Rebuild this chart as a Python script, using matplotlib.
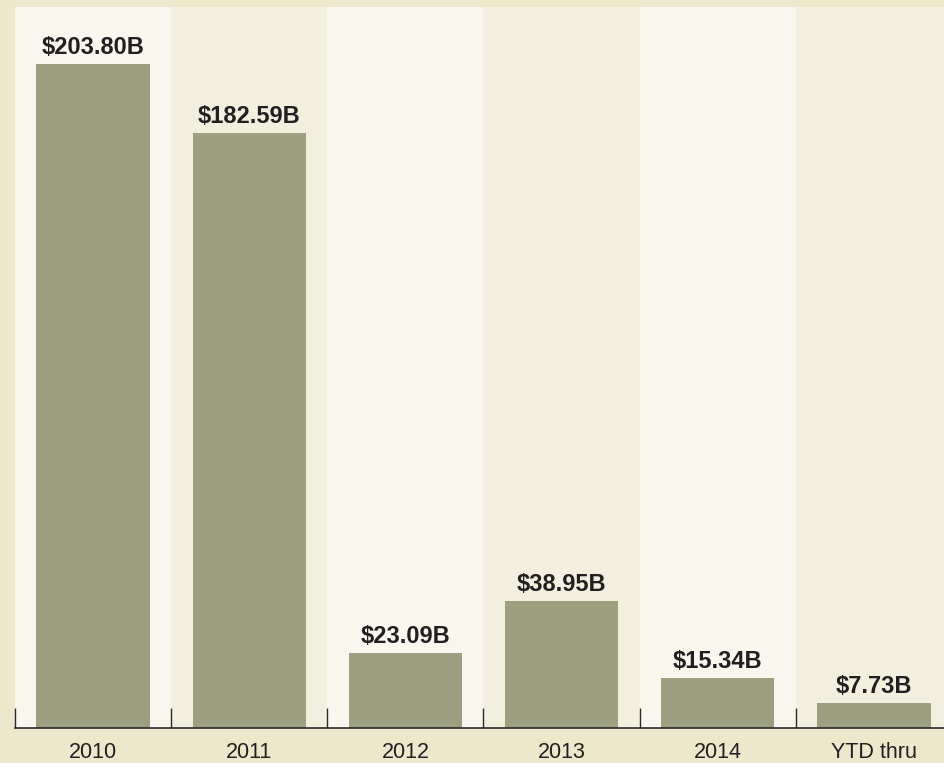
import numpy as np
import matplotlib.pyplot as plt
from matplotlib.transforms import blended_transform_factory

plt.rcParams['font.family'] = ['Liberation Sans', 'DejaVu Sans']

# values in billions of dollars
categories = ['2010', '2011', '2012', '2013', '2014', 'YTD thru']
values = [203.80, 182.59, 23.09, 38.95, 15.34, 7.73]
value_labels = ['$203.80B', '$182.59B', '$23.09B', '$38.95B', '$15.34B', '$7.73B']

outer_bg = '#ede7cb'
col_light = '#f9f6ee'
col_beige = '#f2efdf'
bar_color = '#9ca081'
text_color = '#231f20'

fig = plt.figure(figsize=(9.45, 7.63), dpi=100)
fig.patch.set_facecolor(outer_bg)

# axes run a little past the right edge, like the original crop
ax = fig.add_axes([15 / 945, 35 / 763, 937 / 945, 721 / 763])
ax.set_facecolor(outer_bg)

x = np.arange(len(categories))
for i in x:
    ax.axvspan(i - 0.5, i + 0.5, color=col_light if i % 2 == 0 else col_beige,
               lw=0, zorder=0)

ax.bar(x, values, width=0.725, color=bar_color, lw=0, zorder=2)

for xi, v, lab in zip(x, values, value_labels):
    ax.annotate(lab, (xi, v), xytext=(0, 7.2), textcoords='offset points',
                ha='center', va='baseline', fontsize=17, fontweight='bold',
                color=text_color)

trans = blended_transform_factory(ax.transData, ax.transAxes)
for xi, cat in zip(x, categories):
    ax.annotate(cat, (xi, 0), xycoords=trans, xytext=(0, -21.4),
                textcoords='offset points', ha='center', va='baseline',
                fontsize=15.5, color=text_color, annotation_clip=False)

ax.set_xlim(-0.5, len(categories) - 0.5)
ax.set_ylim(0, 221.3)

ax.set_xticks(np.arange(-0.5, len(categories), 1.0))
ax.set_xticklabels([])
ax.tick_params(axis='x', direction='in', length=14.4, width=1.0, color='#2a2a2a')
ax.set_yticks([])

for side in ['top', 'right', 'left']:
    ax.spines[side].set_visible(False)
ax.spines['bottom'].set_color('#2a2a2a')
ax.spines['bottom'].set_linewidth(1.2)

fig.savefig('out.png', dpi=100, facecolor=outer_bg)
